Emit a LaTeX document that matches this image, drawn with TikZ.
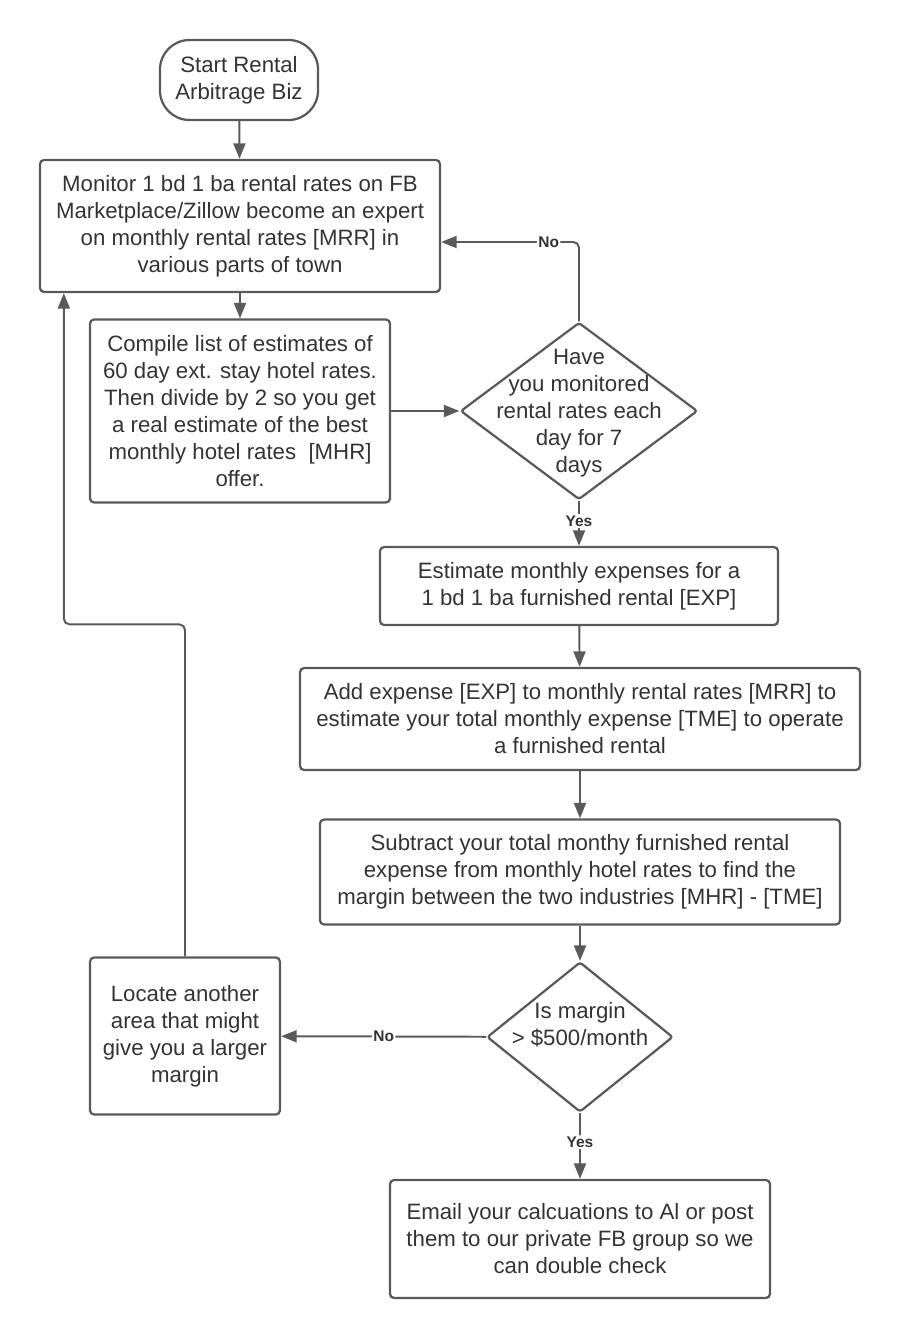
\documentclass[tikz,border=0pt]{standalone}
\usepackage{fontspec}
\setmainfont{Liberation Sans}
\usetikzlibrary{arrows.meta,shapes.geometric}
\definecolor{edge}{HTML}{5A5A5A}
\definecolor{ink}{HTML}{333333}

\begin{document}
\begin{tikzpicture}[x=0.025cm,y=-0.025cm,
  every node/.style={text=ink, align=center, font=\fontsize{15.8}{19.2}\selectfont},
  box/.style={draw=edge, line width=1.6pt, rounded corners=3pt, inner sep=0pt},
  decide/.style={draw=edge, line width=1.6pt, diamond, rounded corners=2pt, inner sep=0pt},
  flow/.style={draw=edge, line width=1.4pt, rounded corners=4pt, -{Triangle[length=11pt,width=8.5pt]}},
  answer/.style={fill=white, inner sep=1pt, font=\bfseries\fontsize{11}{13}\selectfont}]
\useasboundingbox (0,0) rectangle (900,1339);

\node[box, rounded corners=21pt, minimum width=3.95cm, minimum height=2cm] (start) at (239,80) {Start Rental\\Arbitrage Biz};
\node[box, minimum width=10cm, minimum height=3.3cm] (monitor) at (240,226)
  {Monitor 1 bd 1 ba rental rates on FB\\Marketplace/Zillow become an expert\\on monthly rental rates [MRR] in\\various parts of town};
\node[box, minimum width=7.5cm, minimum height=4.575cm] (compile) at (240,411)
  {Compile list of estimates of\\60 day ext. stay hotel rates.\\Then divide by 2 so you get\\a real estimate of the best\\monthly hotel rates~~[MHR]\\offer.};
\node[decide, minimum width=5.925cm, minimum height=4.425cm] (check) at (579,411) {};
\node (checktext) at ([yshift=-0.05cm]check.center) {Have\\you monitored\\rental rates each\\day for 7\\days};
\node[box, minimum width=9.95cm, minimum height=1.95cm] (estimate) at (579,586)
  {Estimate monthly expenses for a\\1 bd 1 ba furnished rental [EXP]};
\node[box, minimum width=14cm, minimum height=2.55cm] (add) at (580,719)
  {Add expense [EXP] to monthly rental rates [MRR] to\\estimate your total monthly expense [TME] to operate\\a furnished rental};
\node[box, minimum width=13cm, minimum height=2.625cm] (subtract) at (580,872)
  {Subtract your total monthy furnished rental\\expense from monthly hotel rates to find the\\margin between the two industries [MHR] - [TME]};
\node[decide, minimum width=4.65cm, minimum height=3.75cm] (margin) at (580,1037) {};
\node (margintext) at ([yshift=0.3cm]margin.center) {Is margin\\> \$500/month};
\node[box, minimum width=4.75cm, minimum height=3.925cm] (locate) at (185,1036)
  {Locate another\\area that might\\give you a larger\\margin};
\node[box, minimum width=9.5cm, minimum height=2.95cm] (email) at (580,1239)
  {Email your calcuations to Al or post\\them to our private FB group so we\\can double check};

\draw[flow] (start) -- (monitor);
\draw[flow] (monitor) -- (compile);
\draw[flow] (compile) -- (check);
\draw[flow] (check.north) |- ([yshift=-0.4cm]monitor.east) node[answer, pos=0.61] {No};
\draw[flow] (check) -- (estimate) node[answer, pos=0.45] {Yes};
\draw[flow] (estimate) -- (add);
\draw[flow] (add) -- (subtract);
\draw[flow] (subtract) -- (margin);
\draw[flow] (margin) -- (locate) node[answer, pos=0.5] {No};
\draw[flow] (margin) -- (email) node[answer, pos=0.44] {Yes};
\draw[flow] (locate.north) -- ++(0,-332) -| ([xshift=0.625cm]monitor.south west);

\end{tikzpicture}
\end{document}
